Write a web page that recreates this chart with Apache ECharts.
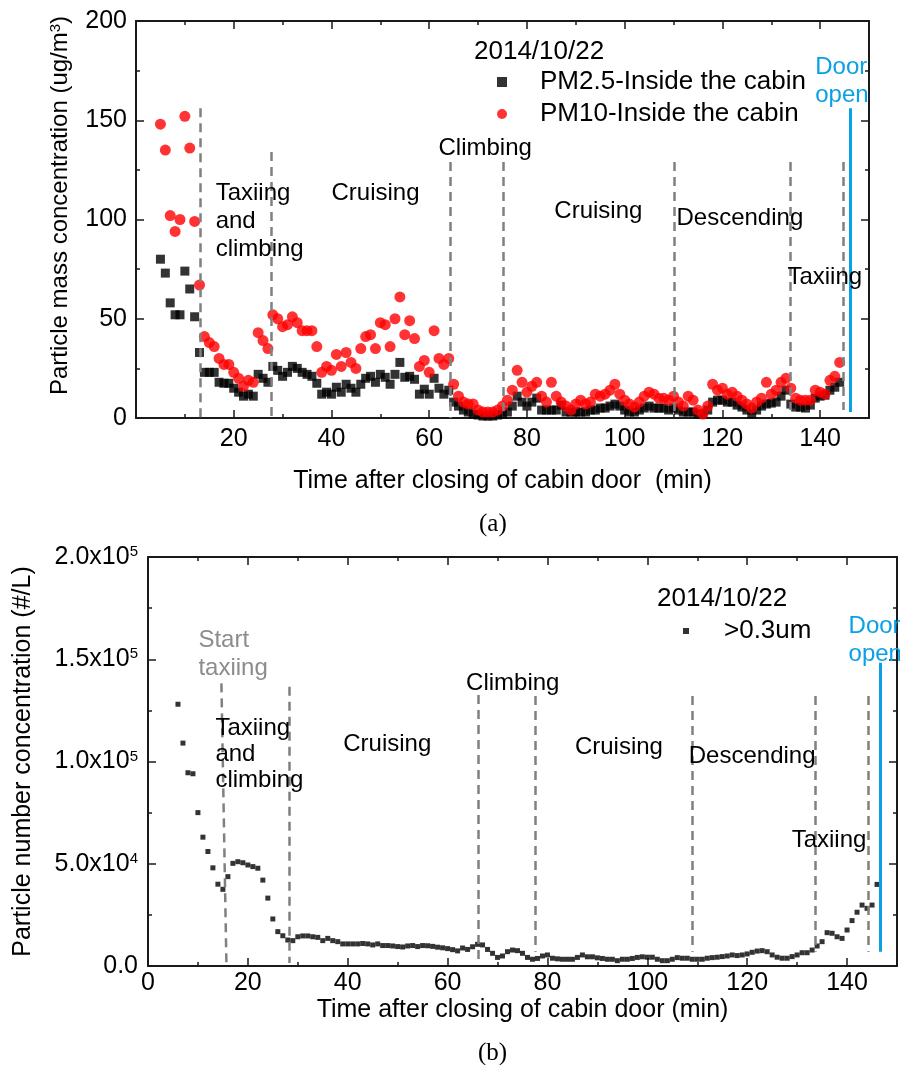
<!DOCTYPE html>
<html lang="en">
<head>
<meta charset="UTF-8">
<title>Cabin particle concentration 2014/10/22</title>
<script src="https://cdn.jsdelivr.net/npm/echarts@6/dist/echarts.min.js"></script>
<style>
html, body { margin: 0; padding: 0; background: #fff; }
#chart { width: 900px; height: 1065px; }
</style>
</head>
<body>
<div id="chart"></div>
<script>
// (a) particle mass concentration, one reading a minute from minute 5
var massStart = 5;
var pm25 = [80, 73, 58, 52, 52, 74, 65, 51, 33,
  23, 23, 23, 18, 17.5, 17.5, 15, 13, 11, 12, 11,
  22, 20, 18, 26, 24, 21, 23, 26, 25, 23, 22, 21, 17.5,
  12, 13, 12, 15.5, 13, 17, 15, 13, 17, 20, 21, 18, 22,
  20.5, 17, 22, 28, 20.5, 21, 19.5, 12, 14.5, 12, 20, 15, 12, 14,
  8, 6, 4, 3, 2, 1.5, 1, 1, 1, 1.5, 2, 3,
  6, 11, 8, 6, 8, 10, 4, 4, 4, 4, 6.5, 3,
  3, 3, 3, 3, 4, 4, 5, 5, 6, 7, 6, 4,
  3, 3, 4, 5, 6, 5, 5, 5, 4, 5, 4, 3,
  3, 3, 2, 2, 4, 8, 9, 9, 8, 8, 6.5, 5.5,
  4, 2, 4, 6, 7, 7.5, 8, 11, 14, 7, 5.5, 5.5,
  5, 6.5, 10, 11, 11.5, 14, 15.5, 18];
var pm10 = [148, 135, 102, 94, 100, 152, 136, 99, 67,
  41, 38, 36, 30, 27, 27, 23, 20, 16, 19, 18,
  43, 39, 35, 52, 50, 46, 47, 51, 48, 44, 44, 44, 36,
  23, 26, 24, 32, 26, 33, 28, 25, 35, 41, 42, 35, 48,
  47, 36, 50, 61, 42, 49, 40, 26, 29, 23, 44, 30, 27, 30,
  17, 11, 8, 7, 7, 4, 3, 3, 3, 4, 6, 9,
  14, 24, 18, 13, 16, 18, 11, 8, 18, 11, 8, 6,
  4, 7, 9, 7, 8, 12, 11, 12, 14, 17, 12, 9,
  7, 5.5, 8, 11, 13, 12, 10, 10, 9, 11, 8, 6,
  11, 9, 4, 2, 6, 17, 14, 15, 12, 13, 11, 9,
  7, 5, 8, 10, 18, 12, 14, 18, 20, 15, 10, 9,
  9, 9, 14, 13, 12, 19, 21, 28];

// (b) particle number concentration >0.3um, one reading a minute from minute 6
var numStart = 6;
var count03 = [128000, 109000, 94500, 94000, 75000, 63000, 56000, 48000, 40000, 37500,
  43700, 50200, 51000, 50500, 49400, 48600, 47800, 42000, 33200, 23000,
  16800, 14800, 12700, 12400, 14300, 14700, 14700, 14300, 14000, 12400,
  13500, 12400, 11900, 10800, 10800, 10800, 10800, 11000, 10800, 10300,
  10800, 10000, 10000, 9800, 9500, 9300, 9800, 10000, 9500, 10000,
  9900, 9600, 9200, 8900, 8500, 8000, 7400, 8800, 8100, 9400,
  10600, 10300, 8100, 6200, 4200, 4900, 7000, 7800, 7500, 6200,
  4200, 3300, 3700, 4900, 5400, 3800, 3500, 3300, 3300, 3300,
  4200, 5400, 4500, 4500, 4000, 3700, 3300, 3300, 2600, 3300,
  3300, 3700, 4200, 4500, 4300, 4300, 3300, 2600, 2600, 3300,
  4100, 3800, 3800, 3300, 3300, 3300, 3800, 4100, 4300, 4600,
  4900, 5400, 5100, 5400, 5900, 6700, 7300, 7500, 7000, 5400,
  4300, 3800, 3800, 4600, 5400, 6500, 6500, 7800, 9800, 11900,
  16300, 16000, 14300, 13500, 17600, 22200, 26300, 29800, 28200, 29800, 39900];

// phase boundaries [x top, y top, x bottom, y bottom]
var phaseLinesA = [[13.1, 156, 13.1, 0], [27.6, 134, 27.6, 0], [64.3, 129, 64.3, 0], [75.2, 129, 75.2, 1],
  [110.2, 129, 110.2, 3], [133.8, 129, 133.8, 4], [144.7, 129, 144.7, 4]];
var doorLineA = [146.2, 156, 146.2, 3];
var phaseLinesB = [[14.7, 138200, 15.7, 1500], [28.2, 136600, 28.2, 1500], [66.2, 132500, 66.2, 3000],
  [77.5, 132000, 77.5, 7000], [108.9, 132000, 108.9, 7000], [133.6, 132000, 133.6, 7000], [144.3, 132000, 144.3, 7000]];
var doorLineB = [146.7, 148300, 146.7, 7000];

// phase labels [x, y, text]
var notesA = [[16.2, 99.2, 'Taxiing\nand\nclimbing'], [39.9, 113.4, 'Cruising'], [61.8, 136, 'Climbing'],
  [85.5, 104.3, 'Cruising'], [110.5, 100.8, 'Descending'], [133.2, 71, 'Taxiing']];
var doorNoteA = [[138.9, 169.8, 'Door\nopen']];
var notesB = [[13.4, 103700, 'Taxiing\nand\nclimbing'], [39, 108600, 'Cruising'], [63.6, 138400, 'Climbing'],
  [85.4, 107100, 'Cruising'], [108.2, 102700, 'Descending'], [128.8, 61600, 'Taxiing']];
var startNoteB = [[10, 152600, 'Start\ntaxiing']];
var doorNoteB = [[140.2, 159400, 'Door\nopen']];

var FONT = 'Liberation Sans, Arial, sans-serif';
var INK = '#1a1a1a';

function pairs(start, arr) {
  return arr.map(function (v, i) { return [start + i, v]; });
}
function segs(lines) {
  return lines.map(function (l) { return [{ coord: [l[0], l[1]] }, { coord: [l[2], l[3]] }]; });
}
function notes(arr) {
  return arr.map(function (n) { return { name: n[2], value: [n[0], n[1]] }; });
}
function sci(v) {
  if (v === 0) return '0.0';
  var e = Math.floor(Math.log10(v));
  return (v / Math.pow(10, e)).toFixed(1) + 'x10{e|' + e + '}';
}

function axisBase(min, max, interval, extra) {
  var a = {
    type: 'value', min: min, max: max, interval: interval,
    axisLine: { show: true, onZero: false, lineStyle: { color: INK, width: 2 } },
    axisTick: { show: true, inside: true, length: 8, lineStyle: { color: INK, width: 1.5 } },
    minorTick: { show: true, splitNumber: 2, length: 4, lineStyle: { color: INK, width: 1.5 } },
    splitLine: { show: false },
    axisLabel: { show: true, fontFamily: FONT, fontSize: 25, color: '#000' }
  };
  for (var k in extra) a[k] = extra[k];
  return a;
}

function noteSeries(xi, yi, data, color, lh) {
  return {
    type: 'scatter', xAxisIndex: xi, yAxisIndex: yi, data: notes(data), z: 5,
    symbolSize: 1, itemStyle: { color: 'rgba(0,0,0,0)' }, silent: true,
    label: { show: true, position: 'right', distance: 0, formatter: '{b}', opacity: 1,
      textBorderWidth: 0, fontFamily: FONT, fontSize: 24, color: color, lineHeight: lh }
  };
}
function lineSeries(xi, yi, lines, color, type, width) {
  return {
    type: 'scatter', xAxisIndex: xi, yAxisIndex: yi, data: [], z: 1, silent: true,
    markLine: { silent: true, symbol: ['none', 'none'], label: { show: false }, animation: false,
      lineStyle: { color: color, type: type, width: width }, data: segs(lines) }
  };
}

var chart = echarts.init(document.getElementById('chart'));
var option = {
  animation: false,
  backgroundColor: '#fff',
  title: [
    { text: '2014/10/22', left: 469, top: 34, textStyle: { fontFamily: FONT, fontSize: 26, fontWeight: 'normal', color: '#000' } },
    { text: '2014/10/22', left: 652, top: 581, textStyle: { fontFamily: FONT, fontSize: 26, fontWeight: 'normal', color: '#000' } },
    { text: '(a)', left: 474, top: 507, textStyle: { fontFamily: 'Liberation Serif, Times New Roman, serif', fontSize: 25, fontWeight: 'normal', color: '#000' } },
    { text: '(b)', left: 473, top: 1036, textStyle: { fontFamily: 'Liberation Serif, Times New Roman, serif', fontSize: 25, fontWeight: 'normal', color: '#000' } }
  ],
  legend: [
    { data: ['PM2.5-Inside the cabin', 'PM10-Inside the cabin'], orient: 'vertical', left: 492, top: 64,
      itemWidth: 10, itemHeight: 10, itemGap: 6, selectedMode: false,
      textStyle: { fontFamily: FONT, fontSize: 26, color: '#000', padding: [0, 0, 0, 28] } },
    { data: ['>0.3um'], left: 678, top: 613, itemWidth: 6, itemHeight: 6, selectedMode: false,
      textStyle: { fontFamily: FONT, fontSize: 26, color: '#000', padding: [0, 0, 0, 30] } }
  ],
  grid: [
    { left: 136, top: 21, width: 733, height: 397 },
    { left: 148, top: 557, width: 749, height: 409 }
  ],
  xAxis: [
    axisBase(0, 150, 20, { gridIndex: 0, position: 'bottom',
      name: 'Time after closing of cabin door  (min)', nameLocation: 'middle', nameGap: 51,
      nameTextStyle: { fontFamily: FONT, fontSize: 25, color: '#000' },
      axisLabel: { show: true, showMinLabel: false, showMaxLabel: false, margin: 9, fontFamily: FONT, fontSize: 25, color: '#000' } }),
    axisBase(0, 150, 20, { gridIndex: 0, position: 'top', axisLabel: { show: false } }),
    axisBase(0, 150, 20, { gridIndex: 1, position: 'bottom',
      name: 'Time after closing of cabin door (min)', nameLocation: 'middle', nameGap: 32,
      nameTextStyle: { fontFamily: FONT, fontSize: 25, color: '#000' },
      axisLabel: { show: true, showMinLabel: true, showMaxLabel: false, margin: 5, fontFamily: FONT, fontSize: 25, color: '#000' } }),
    axisBase(0, 150, 20, { gridIndex: 1, position: 'top', axisLabel: { show: false } })
  ],
  yAxis: [
    axisBase(0, 200, 50, { gridIndex: 0, position: 'left',
      name: 'Particle mass concentration (ug/m{s|3})', nameLocation: 'middle', nameGap: 64,
      nameTextStyle: { fontFamily: FONT, fontSize: 24, color: '#000', padding: [0, 0, 0, 28],
        rich: { s: { fontFamily: FONT, fontSize: 15, verticalAlign: 'top', color: '#000' } } },
      axisLabel: { show: true, margin: 9, fontFamily: FONT, fontSize: 25, color: '#000' } }),
    axisBase(0, 200, 50, { gridIndex: 0, position: 'right', axisLabel: { show: false } }),
    axisBase(0, 200000, 50000, { gridIndex: 1, position: 'left',
      name: 'Particle number concentration (#/L)', nameLocation: 'middle', nameGap: 112,
      nameTextStyle: { fontFamily: FONT, fontSize: 25, color: '#000' },
      axisLabel: { show: true, margin: 10, fontFamily: FONT, fontSize: 25, color: '#000', formatter: sci,
        rich: { e: { fontFamily: FONT, fontSize: 15, verticalAlign: 'top', color: '#000' } } } }),
    axisBase(0, 200000, 50000, { gridIndex: 1, position: 'right', axisLabel: { show: false } })
  ],
  series: [
    lineSeries(0, 0, phaseLinesA, '#808080', [9, 6], 2.5),
    lineSeries(0, 0, [doorLineA], '#0aa0e6', 'solid', 3),
    lineSeries(2, 2, phaseLinesB, '#808080', [9, 6], 2.5),
    lineSeries(2, 2, [doorLineB], '#0aa0e6', 'solid', 3),
    { name: 'PM2.5-Inside the cabin', type: 'scatter', xAxisIndex: 0, yAxisIndex: 0, z: 2,
      symbol: 'rect', symbolSize: 9, itemStyle: { color: '#000' }, data: pairs(massStart, pm25) },
    { name: 'PM10-Inside the cabin', type: 'scatter', xAxisIndex: 0, yAxisIndex: 0, z: 3,
      symbol: 'circle', symbolSize: 11, itemStyle: { color: '#ff0000' }, data: pairs(massStart, pm10) },
    { name: '>0.3um', type: 'scatter', xAxisIndex: 2, yAxisIndex: 2, z: 2,
      symbol: 'rect', symbolSize: 5, itemStyle: { color: '#000' }, data: pairs(numStart, count03) },
    noteSeries(0, 0, notesA, '#000', 28),
    noteSeries(0, 0, doorNoteA, '#0aa0e6', 28),
    noteSeries(2, 2, notesB, '#000', 26),
    noteSeries(2, 2, startNoteB, '#8c8c8c', 28),
    noteSeries(2, 2, doorNoteB, '#0aa0e6', 28)
  ]
};
chart.setOption(option);
</script>
</body>
</html>
